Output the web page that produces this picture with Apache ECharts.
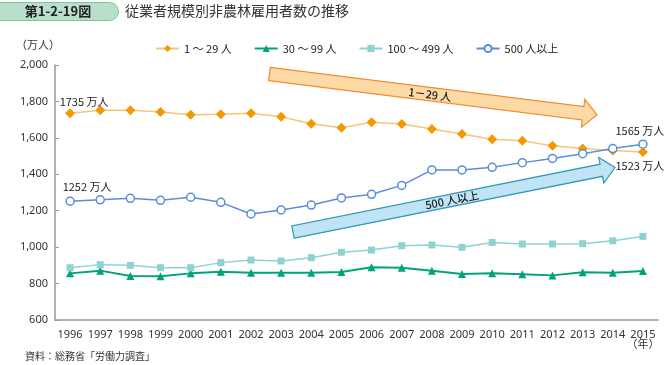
<!DOCTYPE html>
<html><head><meta charset="utf-8">
<script src="https://cdn.jsdelivr.net/npm/echarts@6/dist/echarts.min.js"></script>
<style>html,body{margin:0;padding:0;background:#fff;}#c{width:664px;height:365px;}</style>
</head><body><div id="c"></div>
<script>
const years = ['1996','1997','1998','1999','2000','2001','2002','2003','2004','2005','2006','2007','2008','2009','2010','2011','2012','2013','2014','2015'];
const names = ['1 ～ 29 人','30 ～ 99 人','100 ～ 499 人','500 人以上'];
const small = [1735,1752,1752,1742,1727,1729,1735,1716,1678,1656,1686,1676,1649,1621,1592,1584,1556,1542,1530,1523];
const mid = [856,871,842,840,856,865,860,860,860,864,889,887,871,853,856,851,845,862,860,869];
const large = [887,904,900,887,887,915,929,924,942,972,984,1008,1012,999,1026,1017,1017,1019,1035,1059];
const huge = [1252,1260,1268,1257,1274,1246,1182,1204,1231,1270,1290,1339,1424,1424,1438,1464,1487,1513,1541,1565];
const yTicks = {min:600, max:2000, interval:200};

const FONT = '"Noto Sans CJK JP","Noto Sans",sans-serif';
const chart = echarts.init(document.getElementById('c'));

function arrowPts(x0,y0,x1,y1,hs,hh,hl){
  const dx=x1-x0, dy=y1-y0, L=Math.hypot(dx,dy);
  const ux=dx/L, uy=dy/L, nx=-uy, ny=ux;
  const bx=x1-ux*hl, by=y1-uy*hl;
  return [[x0+nx*hs,y0+ny*hs],[bx+nx*hs,by+ny*hs],[bx+nx*hh,by+ny*hh],[x1,y1],
          [bx-nx*hh,by-ny*hh],[bx-nx*hs,by-ny*hs],[x0-nx*hs,y0-ny*hs]];
}
function withLabel(arr, idx, text, pos, offset){
  return arr.map((v,i)=> i===idx ? {value:(typeof v==='object'?v.value:v), label:{show:true, formatter:text, position:pos, offset:offset,
    color:'#222', fontSize:11, fontFamily:FONT}} : v);
}

const option = {
  animation:false,
  textStyle:{fontFamily:FONT},
  grid:{left:55,right:6,top:65,bottom:45},
  legend:{
    left:150, top:38, itemWidth:23, itemHeight:9, itemGap:22,
    textStyle:{fontSize:11,color:'#222',fontFamily:FONT},
    data:names
  },
  xAxis:{
    type:'category', data:years, boundaryGap:true,
    axisLine:{lineStyle:{color:'#999',width:1.5}},
    axisTick:{inside:true,length:4,lineStyle:{color:'#999'}},
    axisLabel:{color:'#333',fontSize:11,margin:9,interval:0,fontFamily:'"Noto Sans",sans-serif'}
  },
  yAxis:{
    type:'value', min:yTicks.min, max:yTicks.max, interval:yTicks.interval,
    splitLine:{show:false},
    axisLine:{show:true,lineStyle:{color:'#999',width:1.5}},
    axisTick:{show:true,inside:true,length:4,lineStyle:{color:'#999'}},
    axisLabel:{color:'#333',fontSize:11,margin:7,fontFamily:'"Noto Sans",sans-serif',
      formatter:v=>v.toLocaleString('en-US')}
  },
  series:[
    {name:names[0], type:'line', data:withLabel(withLabel(small,0,'1735 万人','top',[14,4]),19,'1523 万人','bottom',[-3,-2]),
     symbol:'diamond', symbolSize:10, z:4,
     lineStyle:{color:'#F8C47C',width:1.5}, itemStyle:{color:'#F39800'}},
    {name:names[1], type:'line', data:mid, symbol:'triangle', symbolSize:8, z:3,
     lineStyle:{color:'#00A37A',width:2}, itemStyle:{color:'#00A37A'}},
    {name:names[2], type:'line', data:large, symbol:'rect', symbolSize:7, z:3,
     lineStyle:{color:'#8FD2D2',width:1.5}, itemStyle:{color:'#8FD2D2'}},
    {name:names[3], type:'line', data:withLabel(withLabel(huge,0,'1252 万人','top',[17,1]),19,'1565 万人','top',[-3,2]),
     symbol:'circle', symbolSize:8, z:5,
     lineStyle:{color:'#5B8ED8',width:1.5}, itemStyle:{color:'#fff',borderColor:'#5B8ED8',borderWidth:1.5}}
  ],
  graphic:[
    {type:'rect', left:-20, top:2, shape:{width:138,height:18,r:9},
     style:{fill:'#B9DFCB',stroke:'#7CC4A0',lineWidth:1}},
    {type:'text', x:58, y:11, style:{text:'第1-2-19図',font:'bold 13px '+FONT,fill:'#222',align:'center',verticalAlign:'middle'}},
    {type:'text', x:125, y:11, style:{text:'従業者規模別非農林雇用者数の推移',font:'14px '+FONT,fill:'#333',verticalAlign:'middle'}},
    {type:'text', x:38, y:45, style:{text:'（万人）',font:'11px '+FONT,fill:'#333',align:'center',verticalAlign:'middle'}},
    {type:'text', x:643, y:344, style:{text:'（年）',font:'11px '+FONT,fill:'#333',align:'center',verticalAlign:'middle'}},
    {type:'text', x:25, y:356, style:{text:'資料：総務省「労働力調査」',font:'10px '+FONT,fill:'#333',verticalAlign:'middle'}},
    {type:'polygon', z:1, shape:{points:arrowPts(269.5,74,597,115,6.7,14,14)},
     style:{fill:'#FDD9A6',stroke:'#F08A30',lineWidth:1.2}},
    {type:'text', z:2, x:430, y:94.5, rotation:-Math.atan2(41,327.5),
     style:{text:'1－29 人',font:'500 11px '+FONT,fill:'#222',align:'center',verticalAlign:'middle'}},
    {type:'polygon', z:1, shape:{points:arrowPts(293,232,615,167.5,6.2,13,14)},
     style:{fill:'#BFE4F6',stroke:'#3596B5',lineWidth:1.2}},
    {type:'text', z:2, x:452, y:200, rotation:Math.atan2(64.5,322),
     style:{text:'500 人以上',font:'500 11px '+FONT,fill:'#222',align:'center',verticalAlign:'middle'}}
  ]
};
chart.setOption(option);
</script></body></html>
